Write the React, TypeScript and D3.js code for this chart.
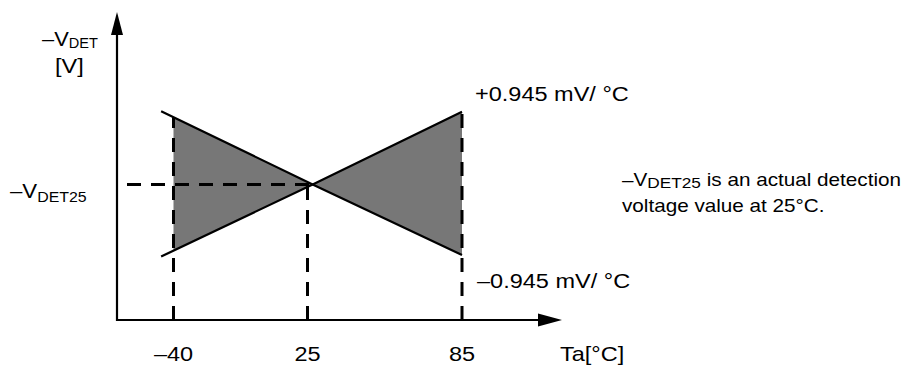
import React from 'react';
import * as d3 from 'd3';

// temperatures on the x axis and their labels
const tickTemps = [-40, 25, 85];
const tickLabels = ['–40', '25', '85'];

// the two drift lines (relative detect voltage, arbitrary units)
const lineTemps = [-46, 27, 85];
const plusLine = [20.6, 44, 67.6];   // +0.945 mV/°C
const minusLine = [67.8, 44, 21.1];  // -0.945 mV/°C
const v25 = 44;

const slopeLabels = ['+0.945 mV/ °C', '–0.945 mV/ °C'];
const noteLines = ['is an actual detection', 'voltage value at 25°C.'];

const W = 912, H = 365;
const originX = 117;
const font = '"Liberation Sans", Arial, sans-serif';

const x = d3.scaleLinear().domain(tickTemps).range([173.5, 307.5, 462]);
const y = d3.scaleLinear().domain([0, 100]).range([320, 12]);

// y (px) of a straight segment at pixel x
const yOnSegment = (px: number, t0: number, v0: number, t1: number, v1: number) => {
    const f = (px - x(t0)) / (x(t1) - x(t0));
    return y(v0) + f * (y(v1) - y(v0));
};

// text slightly stretched sideways, like the scanned original
const Label = ({ x: lx, y: ly, size = 21, sx = 1.12, anchor = 'start', children }: any) => (
    <text transform={`translate(${lx},${ly}) scale(${sx},1)`} fontSize={size} textAnchor={anchor}>
        {children}
    </text>
);

const App = () => {
    const originY = y(0);
    const axisTop = y(100);
    const axisRight = 562;

    const area = d3.area<number>()
        .x((_, i) => x(lineTemps[i]))
        .y0((_, i) => y(plusLine[i]))
        .y1((_, i) => y(minusLine[i]));

    const line = d3.line<number>()
        .x((_, i) => x(lineTemps[i]))
        .y((v) => y(v));

    // tops of the dashed verticals
    const topAt = [
        Math.min(yOnSegment(x(-40), lineTemps[0], minusLine[0], lineTemps[1], minusLine[1]),
            yOnSegment(x(-40), lineTemps[0], plusLine[0], lineTemps[1], plusLine[1])),
        y(v25),
        y(Math.max(plusLine[2], minusLine[2])),
    ];

    const dash = { stroke: '#000', strokeWidth: 3, strokeDasharray: '14,10', fill: 'none' };

    return (
        <svg width={W} height={H} style={{ position: 'absolute', left: 0, top: 0, background: '#fff' }}
            fontFamily={font}>
            <defs>
                <clipPath id="band">
                    <rect x={x(-40)} y={0} width={x(85) - x(-40)} height={H} />
                </clipPath>
            </defs>

            <path d={area(lineTemps) || ''} fill="#777" clipPath="url(#band)" />

            {/* dashed guides */}
            <line x1={originX} x2={x(lineTemps[1])} y1={y(v25)} y2={y(v25)} {...dash} strokeDashoffset={-10} />
            {tickTemps.map((t, i) => (
                <line key={t} x1={x(t)} x2={x(t)} y1={originY} y2={topAt[i]} {...dash} />
            ))}

            <path d={line(plusLine) || ''} fill="none" stroke="#000" strokeWidth={2.2} />
            <path d={line(minusLine) || ''} fill="none" stroke="#000" strokeWidth={2.2} />

            {/* axes with arrow heads */}
            <line x1={originX} x2={originX} y1={originY + 1} y2={axisTop + 20} stroke="#000" strokeWidth={2.2} />
            <path d={`M${originX},${axisTop} L${originX - 6},${axisTop + 23} L${originX + 6},${axisTop + 23} Z`} fill="#000" />
            <line x1={originX - 1} x2={axisRight - 20} y1={originY} y2={originY} stroke="#000" strokeWidth={2.2} />
            <path d={`M${axisRight},${originY} L${axisRight - 24},${originY - 6.5} L${axisRight - 24},${originY + 6.5} Z`} fill="#000" />

            {/* x tick labels */}
            {tickTemps.map((t, i) => (
                <Label key={t} x={x(t)} y={originY + 41} anchor="middle">{tickLabels[i]}</Label>
            ))}
            <Label x={560} y={originY + 41}>Ta[°C]</Label>

            {/* y axis title */}
            <Label x={42} y={46} sx={1.04}>–V<tspan fontSize={14} dy={2}>DET</tspan></Label>
            <Label x={55} y={73}>[V]</Label>
            <Label x={10} y={198} sx={1.06}>–V<tspan fontSize={15} dy={4}>DET25</tspan></Label>

            {/* slope labels */}
            <Label x={475} y={101}>{slopeLabels[0]}</Label>
            <Label x={477} y={288}>{slopeLabels[1]}</Label>

            {/* note */}
            <Label x={622} y={186} size={18} sx={1.15}>–V<tspan fontSize={15} dy={2}>DET25</tspan><tspan dy={-2}> {noteLines[0]}</tspan></Label>
            <Label x={622} y={212} size={18} sx={1.15}>{noteLines[1]}</Label>
        </svg>
    );
};

export default App;
